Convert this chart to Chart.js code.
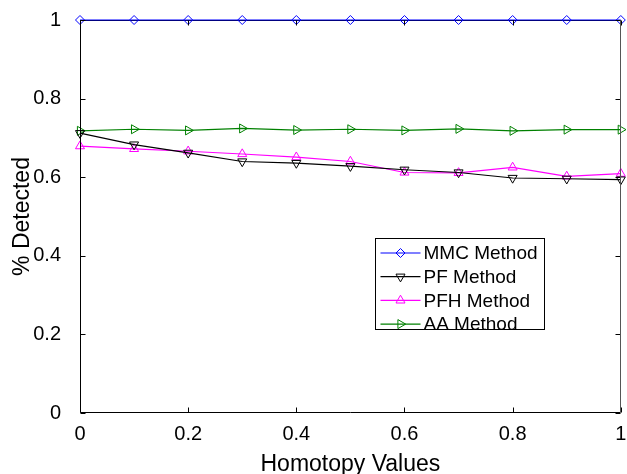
<!DOCTYPE html>
<html>
<head>
<meta charset="utf-8">
<script src="https://cdn.jsdelivr.net/npm/chart.js@4"></script>
<style>
    html, body { margin: 0; padding: 0; background: #fff; }
</style>
</head>
<body>
<canvas id="chart" width="627" height="474"></canvas>
<script>
// data
const homotopy = [0, 0.1, 0.2, 0.3, 0.4, 0.5, 0.6, 0.7, 0.8, 0.9, 1];
const mmcValues = [1, 1, 1, 1, 1, 1, 1, 1, 1, 1, 1];
const pfValues = [0.712, 0.683, 0.662, 0.640, 0.636, 0.628, 0.619, 0.612, 0.598, 0.596, 0.594];
const pfhValues = [0.679, 0.672, 0.666, 0.659, 0.651, 0.640, 0.612, 0.611, 0.625, 0.602, 0.609];
const aaValues = [0.718, 0.722, 0.719, 0.724, 0.720, 0.722, 0.719, 0.723, 0.718, 0.721, 0.721];
const seriesNames = ["MMC Method", "PF Method", "PFH Method", "AA Method"];
const xTickValues = [0, 0.2, 0.4, 0.6, 0.8, 1];
const yTickValues = [0, 0.2, 0.4, 0.6, 0.8, 1];

const fontFamily = '"Liberation Sans", Arial, Helvetica, sans-serif';

function toPoints(values) {
    return homotopy.map((x, i) => ({ x: x, y: values[i] }));
}

function makeSeries(label, values, color, pointStyle, rotation) {
    return {
        label: label,
        data: toPoints(values),
        borderColor: color,
        backgroundColor: color,
        borderWidth: 1.2,
        pointStyle: pointStyle,
        rotation: rotation,
        pointRadius: pointStyle === "rectRot" ? 4.5 : 5.2,
        pointBorderColor: color,
        pointBackgroundColor: "rgba(0,0,0,0)",
        pointBorderWidth: 1,
        tension: 0,
        clip: false
    };
}

// frame + inward ticks, matlab style
const frameTicks = {
    id: "frameTicks",
    beforeDatasetsDraw(chart) {
        // top edge sits under the series lines
        const ctx = chart.ctx;
        const a = chart.chartArea;
        ctx.save();
        ctx.strokeStyle = "#000";
        ctx.lineWidth = 1;
        ctx.beginPath();
        ctx.moveTo(Math.round(a.left), Math.round(a.top) + 0.5);
        ctx.lineTo(Math.round(a.right), Math.round(a.top) + 0.5);
        ctx.stroke();
        ctx.restore();
    },
    afterDatasetsDraw(chart) {
        const ctx = chart.ctx;
        const a = chart.chartArea;
        const xs = chart.scales.x;
        const ys = chart.scales.y;
        const L = Math.round(a.left) + 0.5, R = Math.round(a.right) - 0.5;
        const T = Math.round(a.top) + 0.5, B = Math.round(a.bottom) - 0.5;
        const len = 5;
        ctx.save();
        ctx.strokeStyle = "#000";
        ctx.lineWidth = 1;
        ctx.beginPath();
        xTickValues.forEach(v => {
            const px = Math.round(xs.getPixelForValue(v)) + 0.5;
            ctx.moveTo(px, B); ctx.lineTo(px, B - len);
            ctx.moveTo(px, T); ctx.lineTo(px, T + len);
        });
        yTickValues.forEach(v => {
            const py = Math.round(ys.getPixelForValue(v)) + 0.5;
            ctx.moveTo(L, py); ctx.lineTo(L + len, py);
            ctx.moveTo(R, py); ctx.lineTo(R - len, py);
        });
        ctx.stroke();
        ctx.beginPath();
        ctx.moveTo(L, T); ctx.lineTo(L, B); ctx.lineTo(R, B);
        ctx.stroke();
        ctx.strokeStyle = "#555";
        ctx.beginPath();
        ctx.moveTo(R, B); ctx.lineTo(R, T);
        ctx.stroke();
        ctx.restore();
    }
};

// boxed legend inside the plot area
const legendBox = {
    id: "legendBox",
    afterDraw(chart) {
        const ctx = chart.ctx;
        const a = chart.chartArea;
        const x0 = Math.round(a.left) + 295.5, y0 = Math.round(a.top) + 218.5;
        const w = 169, h = 91, rowH = 23.7;
        ctx.save();
        ctx.fillStyle = "#fff";
        ctx.fillRect(x0, y0, w, h);
        ctx.strokeStyle = "#000";
        ctx.lineWidth = 1;
        ctx.strokeRect(x0, y0, w, h);
        ctx.font = "19px " + fontFamily;
        ctx.textBaseline = "middle";
        ctx.textAlign = "left";
        chart.data.datasets.forEach((ds, i) => {
            const cy = y0 + 14.5 + i * rowH;
            ctx.strokeStyle = ds.borderColor;
            ctx.lineWidth = 1.2;
            ctx.beginPath();
            ctx.moveTo(x0 + 5, cy);
            ctx.lineTo(x0 + 45, cy);
            ctx.stroke();
            ctx.lineWidth = 1;
            ctx.fillStyle = "rgba(0,0,0,0)";
            ctx.beginPath();
            Chart.helpers.drawPoint(ctx, {
                pointStyle: ds.pointStyle,
                radius: ds.pointRadius,
                rotation: ds.rotation,
                borderWidth: 1
            }, x0 + 25, cy);
            ctx.fillStyle = "#000";
            ctx.fillText(ds.label, x0 + 48, cy + 1);
        });
        ctx.restore();
    }
};

const chart = new Chart(document.getElementById("chart").getContext("2d"), {
    type: "line",
    data: {
        datasets: [
            makeSeries(seriesNames[0], mmcValues, "#0000ff", "rectRot", 0),
            makeSeries(seriesNames[1], pfValues, "#000000", "triangle", 180),
            makeSeries(seriesNames[2], pfhValues, "#ff00ff", "triangle", 0),
            makeSeries(seriesNames[3], aaValues, "#008000", "triangle", 90)
        ]
    },
    options: {
        responsive: false,
        animation: false,
        layout: { padding: { top: 20, right: 5, left: 0, bottom: 0 } },
        plugins: {
            legend: { display: false },
            tooltip: { enabled: false }
        },
        scales: {
            x: {
                type: "linear",
                min: 0,
                max: 1,
                afterBuildTicks: s => { s.ticks = xTickValues.map(v => ({ value: v })); },
                afterFit: s => { s.height = 61; s.paddingLeft = 0; s.paddingRight = 0; },
                grid: { display: false },
                border: { display: false },
                ticks: {
                    autoSkip: false,
                    maxRotation: 0,
                    padding: 1,
                    color: "#000",
                    font: { family: fontFamily, size: 20 },
                    callback: v => String(+v.toFixed(1))
                },
                title: {
                    display: true,
                    text: "Homotopy Values",
                    color: "#000",
                    font: { family: fontFamily, size: 23, lineHeight: 1 },
                    padding: { top: 0, bottom: -2.5 }
                }
            },
            y: {
                type: "linear",
                min: 0,
                max: 1,
                afterBuildTicks: s => { s.ticks = yTickValues.map(v => ({ value: v })); },
                afterFit: s => { s.width = 80; s.paddingTop = 0; s.paddingBottom = 0; },
                grid: { display: false },
                border: { display: false },
                ticks: {
                    autoSkip: false,
                    padding: 11,
                    color: "#000",
                    font: { family: fontFamily, size: 20 },
                    callback: v => String(+v.toFixed(1))
                },
                title: {
                    display: true,
                    text: "% Detected",
                    color: "#000",
                    font: { family: fontFamily, size: 23, lineHeight: 1 },
                    padding: { top: 11.5, bottom: 0 }
                }
            }
        }
    },
    plugins: [frameTicks, legendBox]
});
</script>
</body>
</html>
